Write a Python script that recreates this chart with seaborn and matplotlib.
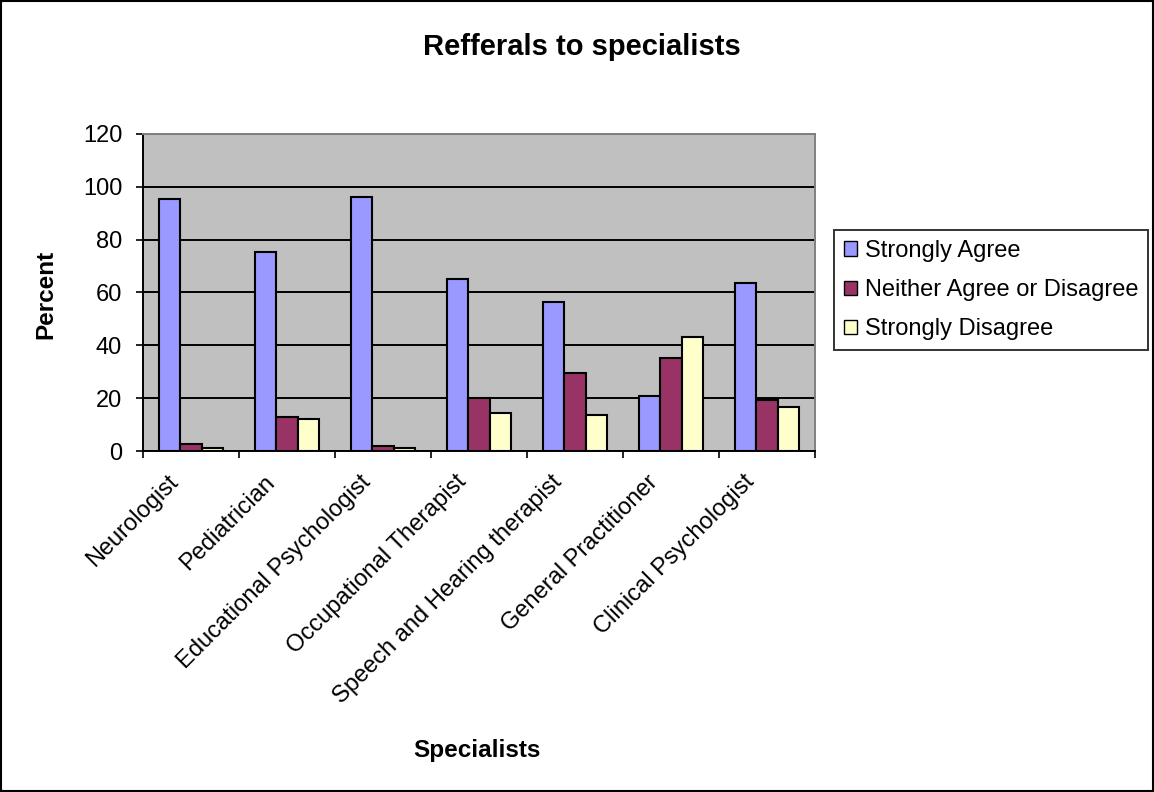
import pandas as pd
import matplotlib.pyplot as plt
import matplotlib.transforms as mtransforms
import seaborn as sns
import numpy as np

specialists = ["Neurologist", "Pediatrician", "Educational Psychologist",
               "Occupational Therapist", "Speech and Hearing therapist",
               "General Practitioner", "Clinical Psychologist"]
responses = ["Strongly Agree", "Neither Agree or Disagree", "Strongly Disagree"]
strongly_agree = [95.4, 75.2, 96.1, 65.0, 56.3, 20.7, 63.5]
neither = [2.5, 12.8, 1.9, 19.9, 29.6, 35.3, 19.3]
strongly_disagree = [1.3, 12.1, 1.3, 14.3, 13.6, 43.3, 16.5]
colors = ["#9999FF", "#993366", "#FFFFCC"]

df = pd.DataFrame({
    "Specialists": specialists * 3,
    "Response": np.repeat(responses, len(specialists)),
    "Percent": strongly_agree + neither + strongly_disagree,
})

sns.set_style("white")
plt.rcParams['font.family'] = ['Liberation Sans', 'DejaVu Sans']
plt.rcParams['text.color'] = 'black'
plt.rcParams['axes.labelcolor'] = 'black'
plt.rcParams['xtick.color'] = 'black'
plt.rcParams['ytick.color'] = 'black'

fig = plt.figure(figsize=(11.54, 7.92), dpi=100)
ax = fig.add_axes([143 / 1154, 1 - 451 / 792, 672 / 1154, 317 / 792])

sns.barplot(data=df, x="Specialists", y="Percent", hue="Response",
            palette=colors, saturation=1, width=0.66, edgecolor="black",
            linewidth=1.5, ax=ax, zorder=3)

ax.set_facecolor("#C0C0C0")
ax.set_ylim(0, 120)
ax.set_xlim(-0.5, len(specialists) - 0.5)
ax.set_yticks(range(0, 121, 20))
ax.yaxis.grid(True, color="black", linewidth=1.4, zorder=0)
ax.set_axisbelow(True)
ax.tick_params(axis="y", direction="out", length=5, width=1.2,
               labelsize=17, left=True, pad=10)

# category labels sit below, tick marks go between the groups
ax.set_xticks(range(len(specialists)))
ax.set_xticklabels(specialists, rotation=45, ha="right", va="center",
                   rotation_mode="anchor", fontsize=17)
ax.tick_params(axis="x", which="major", length=0, pad=20)
ax.set_xticks(np.arange(-0.5, len(specialists), 1), minor=True)
ax.tick_params(axis="x", which="minor", direction="out", length=5, width=1.2, bottom=True)
shift = mtransforms.ScaledTranslation(-16 / 100, 0, fig.dpi_scale_trans)
for lbl in ax.get_xticklabels():
    lbl.set_transform(lbl.get_transform() + shift)

for side in ["left", "bottom"]:
    ax.spines[side].set_color("black")
    ax.spines[side].set_linewidth(1.4)
for side in ["top", "right"]:
    ax.spines[side].set_color("#808080")
    ax.spines[side].set_linewidth(1.4)

ax.set_xlabel("Specialists", fontsize=17.5, fontweight="bold", va="center")
ax.xaxis.set_label_coords(477 / 1154, 1 - 750 / 792, transform=fig.transFigure)
ax.set_ylabel("Percent", fontsize=17.5, fontweight="bold", va="center")
ax.yaxis.set_label_coords(45.5 / 1154, 1 - 294 / 792, transform=fig.transFigure)

fig.text(582 / 1154, 1 - 55 / 792, "Refferals to specialists", fontsize=21,
         fontweight="bold", ha="center", va="baseline")

leg = ax.legend(loc="upper left", bbox_to_anchor=(834 / 1154, 1 - 230 / 792),
                bbox_transform=fig.transFigure,
                frameon=True, fancybox=False, edgecolor="black", fontsize=17,
                handlelength=0.55, handleheight=0.55, handletextpad=0.34,
                borderpad=0.42, labelspacing=0.73, borderaxespad=0)
leg.get_frame().set_linewidth(1.4)
for h in leg.legend_handles:
    h.set_edgecolor("black")
    h.set_linewidth(1.0)

fig.patches.append(plt.Rectangle((0.001, 0.001), 0.998, 0.998, transform=fig.transFigure,
                                 fill=False, edgecolor="black", linewidth=1.5))

fig.savefig("out.png", dpi=100, facecolor="white")
